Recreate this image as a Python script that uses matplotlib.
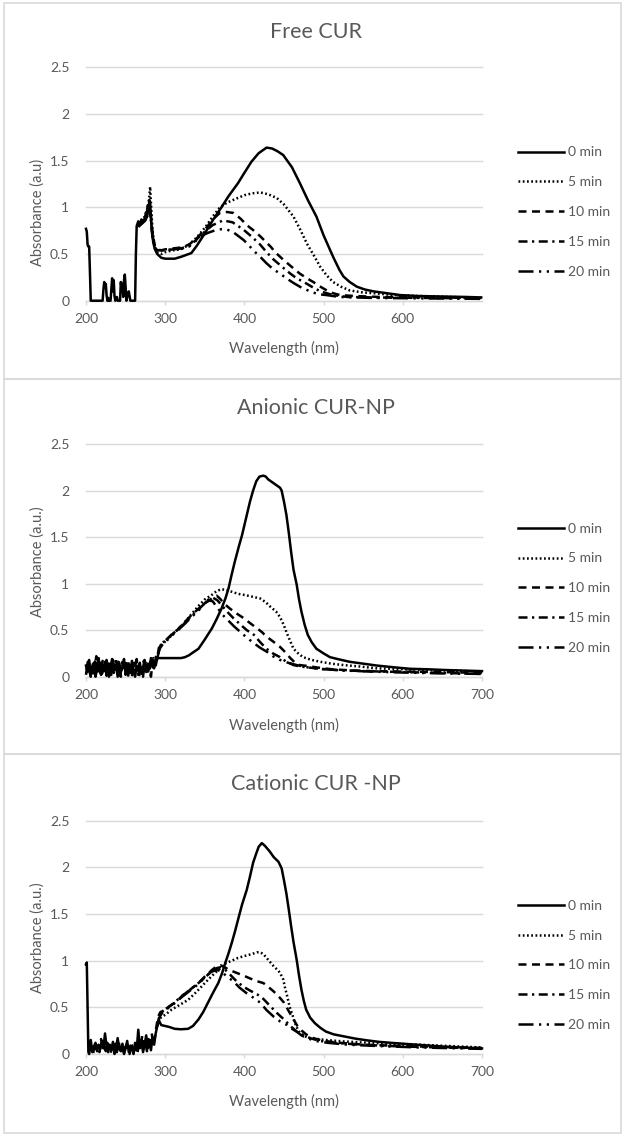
import numpy as np
import matplotlib
matplotlib.use('Agg')
import matplotlib.pyplot as plt
from matplotlib.patches import Rectangle
from matplotlib.ticker import FuncFormatter

# Style constants (Excel-like look)
TEXT_COLOR = '#595959'
GRID_COLOR = '#d9d9d9'
LINE_COLOR = '#000000'
FONT = ['Lato', 'DejaVu Sans']

W, H = 625, 1136

LABELS = ['0 min', '5 min', '10 min', '15 min', '20 min']
STYLES = [
    '-',
    (0, (0.7, 1.0)),
    (0, (3.2, 2.2)),
    (0, (3.6, 1.8, 0.9, 1.8)),
    (0, (6, 2.2, 0.9, 2.2, 0.9, 2.2)),
]
Y_TICKS = [0, 0.5, 1, 1.5, 2, 2.5]

# ---------------- Free CUR ----------------
FREE_0 = [(200, 0.77), (201, 0.74), (202, 0.6), (203, 0.58), (204, 0.58), (205, 0.3), (206, 0.0),
          (221, 0.0), (222, 0.12), (223, 0.2), (224, 0.14), (225, 0.18), (226, 0.06), (227, 0.0),
          (228, 0.03), (229, 0.0), (231, 0.0), (232, 0.12), (233, 0.24), (234, 0.1), (235, 0.22),
          (236, 0.05), (237, 0.0), (239, 0.04), (240, 0.0), (243, 0.0), (244, 0.2), (245, 0.12),
          (246, 0.18), (247, 0.04), (248, 0.22), (249, 0.28), (250, 0.15), (251, 0.0), (253, 0.08),
          (254, 0.1), (255, 0.05), (256, 0.0), (262, 0.0), (263, 0.5), (264, 0.8), (266, 0.85),
          (268, 0.82), (270, 0.87), (272, 0.84), (274, 0.88), (276, 0.95), (277, 0.9), (278, 1.02),
          (279, 0.97), (280, 1.08), (281, 1.05), (282, 0.9), (283, 0.75), (285, 0.62), (287, 0.55),
          (290, 0.5), (295, 0.46), (300, 0.45), (305, 0.45), (312, 0.45), (320, 0.47), (333, 0.51),
          (340, 0.59), (350, 0.72), (360, 0.86), (371, 1.0), (380, 1.12), (392, 1.26), (400, 1.37),
          (409, 1.49), (418, 1.58), (428, 1.64), (435, 1.63), (442, 1.6), (449, 1.56), (460, 1.43),
          (470, 1.26), (480, 1.08), (491, 0.9), (500, 0.7), (512, 0.47), (520, 0.33), (525, 0.26),
          (533, 0.2), (542, 0.15), (552, 0.12), (563, 0.1), (580, 0.08), (597, 0.06), (620, 0.05),
          (650, 0.045), (680, 0.04), (699, 0.035)]
FREE_5 = [(266, 0.82), (270, 0.85), (274, 0.9), (278, 1.0), (280, 1.12), (281, 1.22), (282, 1.05),
          (284, 0.75), (287, 0.56), (290, 0.52), (295, 0.5), (300, 0.52), (310, 0.54), (320, 0.55),
          (330, 0.6), (340, 0.68), (350, 0.78), (360, 0.9), (369, 1.0), (378, 1.05), (386, 1.08),
          (400, 1.13), (410, 1.15), (420, 1.16), (430, 1.14), (441, 1.1), (450, 1.03), (462, 0.9),
          (470, 0.77), (479, 0.61), (488, 0.48), (496, 0.36), (504, 0.27), (512, 0.2), (522, 0.15),
          (533, 0.11), (548, 0.09), (563, 0.08), (590, 0.06), (620, 0.05), (660, 0.04), (699, 0.03)]
FREE_10 = [(266, 0.8), (270, 0.84), (275, 0.88), (280, 1.0), (282, 0.9), (284, 0.72), (287, 0.58),
           (290, 0.55), (295, 0.54), (300, 0.55), (310, 0.56), (320, 0.57), (330, 0.6), (340, 0.67),
           (350, 0.76), (360, 0.87), (369, 0.94), (378, 0.95), (386, 0.94), (395, 0.88), (403, 0.81),
           (412, 0.75), (420, 0.69), (433, 0.58), (440, 0.51), (449, 0.44), (460, 0.36), (470, 0.29),
           (479, 0.24), (487, 0.2), (496, 0.15), (504, 0.11), (512, 0.08), (521, 0.06), (540, 0.05),
           (570, 0.04), (620, 0.035), (699, 0.03)]
FREE_15 = [(266, 0.8), (270, 0.83), (275, 0.87), (280, 0.98), (282, 0.88), (284, 0.7), (287, 0.57),
           (290, 0.54), (300, 0.54), (310, 0.55), (320, 0.56), (330, 0.58), (340, 0.66), (350, 0.74),
           (360, 0.81), (373, 0.86), (385, 0.84), (399, 0.76), (410, 0.68), (420, 0.6), (428, 0.52),
           (437, 0.44), (448, 0.36), (458, 0.29), (466, 0.24), (475, 0.2), (485, 0.15), (496, 0.1),
           (504, 0.08), (512, 0.06), (530, 0.04), (560, 0.035), (620, 0.03), (699, 0.025)]
FREE_20 = [(266, 0.79), (270, 0.82), (275, 0.86), (280, 0.96), (282, 0.86), (284, 0.69), (287, 0.57),
           (290, 0.54), (300, 0.54), (310, 0.55), (320, 0.56), (330, 0.58), (340, 0.65), (344, 0.69),
           (355, 0.73), (365, 0.76), (375, 0.77), (385, 0.74), (399, 0.65), (405, 0.6), (411, 0.54),
           (420, 0.47), (428, 0.4), (436, 0.34), (445, 0.29), (453, 0.24), (462, 0.19), (472, 0.14),
           (483, 0.1), (493, 0.07), (504, 0.06), (520, 0.04), (560, 0.03), (620, 0.025), (699, 0.02)]

# ---------------- Anionic CUR-NP ----------------
# noisy region below ~290 nm, sampled every 2 nm
ANI_NOISE_A = [0.12, 0.05, 0.18, 0.02, 0.1, 0.15, 0.0, 0.08, 0.2, 0.04, 0.12, 0.06, 0.16, 0.01, 0.09,
               0.14, 0.03, 0.18, 0.07, 0.11, 0.0, 0.15, 0.05, 0.1, 0.19, 0.02, 0.08, 0.13, 0.04, 0.17,
               0.06, 0.0, 0.12, 0.09, 0.15, 0.03, 0.1, 0.18, 0.05, 0.14, 0.08, 0.2, 0.1, 0.16, 0.12, 0.2]
ANI_NOISE_B = [0.08, 0.2, 0.03, 0.14, 0.0, 0.1, 0.22, 0.06, 0.12, 0.02, 0.17, 0.09, 0.05, 0.15, 0.0,
               0.11, 0.19, 0.04, 0.13, 0.07, 0.16, 0.01, 0.1, 0.14, 0.05, 0.18, 0.0, 0.09, 0.12, 0.03,
               0.15, 0.07, 0.11, 0.0, 0.13, 0.06, 0.17, 0.08, 0.12, 0.04, 0.16, 0.1, 0.2, 0.14, 0.22]
ANI_NOISE_C = [0.02, 0.16, 0.09, 0.0, 0.13, 0.07, 0.19, 0.03, 0.1, 0.15, 0.0, 0.12, 0.08, 0.18, 0.04,
               0.1, 0.0, 0.14, 0.09, 0.2, 0.05, 0.11, 0.0, 0.16, 0.07, 0.12, 0.03, 0.17, 0.1, 0.0,
               0.14, 0.06, 0.19, 0.02, 0.11, 0.08, 0.0, 0.13, 0.17, 0.06, 0.12, 0.0, 0.15, 0.09, 0.21, 0.2]
ANI_0 = [(292, 0.2), (295, 0.2), (300, 0.2), (310, 0.2), (320, 0.2), (325, 0.21), (330, 0.23),
         (335, 0.26), (342, 0.3), (350, 0.4), (359, 0.52), (365, 0.62), (371, 0.73), (376, 0.84),
         (380, 0.95), (384, 1.1), (388, 1.24), (393, 1.4), (397, 1.52), (402, 1.7), (407, 1.88),
         (411, 2.0), (415, 2.1), (419, 2.15), (424, 2.16), (427, 2.15), (430, 2.12), (435, 2.09),
         (440, 2.06), (445, 2.03), (447, 2.0), (450, 1.88), (453, 1.74), (456, 1.55), (459, 1.34),
         (462, 1.15), (466, 0.99), (469, 0.83), (472, 0.7), (476, 0.56), (480, 0.45), (485, 0.37),
         (491, 0.3), (500, 0.25), (508, 0.21), (520, 0.185), (533, 0.16), (550, 0.14), (567, 0.12),
         (590, 0.1), (609, 0.085), (630, 0.08), (660, 0.07), (700, 0.06)]
ANI_5 = [(290, 0.2), (293, 0.32), (296, 0.36), (300, 0.39), (305, 0.42), (310, 0.46), (315, 0.5),
         (321, 0.55), (330, 0.64), (342, 0.76), (350, 0.83), (359, 0.88), (365, 0.92), (371, 0.94),
         (378, 0.93), (385, 0.91), (392, 0.89), (399, 0.88), (410, 0.86), (420, 0.84), (427, 0.8),
         (433, 0.75), (440, 0.7), (445, 0.64), (450, 0.55), (453, 0.48), (458, 0.38), (462, 0.3),
         (468, 0.25), (474, 0.21), (485, 0.18), (496, 0.16), (510, 0.14), (525, 0.125), (545, 0.11),
         (567, 0.09), (600, 0.08), (640, 0.07), (700, 0.055)]
ANI_10 = [(291, 0.25), (294, 0.33), (297, 0.36), (300, 0.38), (304, 0.42), (308, 0.45), (315, 0.5),
          (325, 0.59), (333, 0.66), (342, 0.73), (348, 0.78), (354, 0.81), (360, 0.85), (365, 0.87),
          (369, 0.84), (375, 0.78), (382, 0.73), (390, 0.68), (399, 0.63), (408, 0.57), (416, 0.52),
          (422, 0.48), (428, 0.43), (436, 0.38), (445, 0.32), (452, 0.26), (458, 0.2), (464, 0.15),
          (470, 0.125), (480, 0.115), (491, 0.1), (510, 0.08), (530, 0.07), (560, 0.06), (600, 0.055),
          (650, 0.05), (700, 0.04)]
ANI_15 = [(292, 0.31), (297, 0.35), (300, 0.38), (308, 0.45), (315, 0.5), (325, 0.58),
          (333, 0.65), (342, 0.72), (350, 0.79), (356, 0.84), (360, 0.85), (366, 0.82), (372, 0.76),
          (378, 0.7), (386, 0.63), (395, 0.56), (403, 0.5), (412, 0.45), (420, 0.37), (428, 0.3),
          (436, 0.25), (445, 0.21), (453, 0.16), (462, 0.125), (470, 0.11), (480, 0.1), (495, 0.085),
          (520, 0.07), (550, 0.06), (600, 0.05), (650, 0.04), (700, 0.03)]
ANI_20 = [(290, 0.2), (293, 0.3), (297, 0.35), (300, 0.37), (308, 0.44), (315, 0.49), (325, 0.57),
          (333, 0.64), (342, 0.71), (350, 0.79), (355, 0.82), (360, 0.81), (366, 0.74), (373, 0.66),
          (380, 0.6), (387, 0.54), (395, 0.48), (403, 0.42), (412, 0.36), (420, 0.31), (428, 0.27),
          (436, 0.22), (445, 0.18), (455, 0.15), (466, 0.125), (480, 0.1), (500, 0.08), (530, 0.065),
          (560, 0.055), (600, 0.045), (650, 0.035), (700, 0.03)]

# ---------------- Cationic CUR -NP ----------------
CAT_SPIKE = [(200, 0.96), (201, 0.98), (202, 0.5), (203, 0.02)]
CAT_NOISE_A = [0.0, 0.15, 0.02, 0.08, 0.12, 0.03, 0.1, 0.05, 0.14, 0.06, 0.22, 0.08, 0.02, 0.1, 0.04,
               0.13, 0.0, 0.07, 0.17, 0.05, 0.03, 0.11, 0.0, 0.06, 0.14, 0.02, 0.09, 0.05, 0.0, 0.12,
               0.04, 0.26, 0.08, 0.15, 0.02, 0.1, 0.2, 0.06, 0.13, 0.04, 0.18, 0.1, 0.22]
CAT_NOISE_B = [0.03, 0.08, 0.0, 0.12, 0.05, 0.09, 0.02, 0.16, 0.07, 0.1, 0.03, 0.12, 0.06, 0.0, 0.09,
               0.04, 0.11, 0.02, 0.14, 0.06, 0.0, 0.08, 0.03, 0.1, 0.05, 0.0, 0.12, 0.07, 0.02, 0.1,
               0.0, 0.15, 0.05, 0.2, 0.07, 0.12, 0.03, 0.16, 0.08, 0.22, 0.1, 0.18, 0.3]
CAT_0 = [(290, 0.3), (292, 0.36), (295, 0.31), (300, 0.3), (305, 0.29), (312, 0.27), (320, 0.265),
         (329, 0.27), (335, 0.3), (342, 0.37), (348, 0.45), (354, 0.55), (360, 0.65), (367, 0.76),
         (372, 0.87), (376, 0.98), (380, 1.08), (384, 1.19), (388, 1.31), (392, 1.44), (397, 1.6),
         (403, 1.76), (407, 1.9), (411, 2.05), (415, 2.15), (418, 2.22), (422, 2.26), (426, 2.23),
         (432, 2.17), (437, 2.11), (443, 2.06), (447, 1.99), (450, 1.86), (453, 1.72), (456, 1.55),
         (459, 1.37), (462, 1.2), (466, 1.01), (469, 0.84), (472, 0.69), (475, 0.57), (478, 0.475),
         (483, 0.39), (489, 0.33), (496, 0.28), (503, 0.24), (513, 0.21), (525, 0.19), (540, 0.165),
         (555, 0.146), (570, 0.13), (588, 0.118), (617, 0.1), (650, 0.08), (700, 0.06)]
CAT_5 = [(290, 0.3), (293, 0.38), (296, 0.4), (300, 0.42), (308, 0.475), (315, 0.51), (321, 0.54),
         (329, 0.58), (340, 0.67), (350, 0.76), (357, 0.82), (363, 0.87), (370, 0.92), (376, 0.97),
         (384, 1.0), (392, 1.03), (400, 1.05), (409, 1.07), (416, 1.09), (420, 1.09), (424, 1.07),
         (428, 1.03), (433, 0.98), (437, 0.94), (442, 0.9), (445, 0.87), (449, 0.8), (451, 0.72),
         (454, 0.62), (457, 0.51), (461, 0.41), (464, 0.33), (467, 0.27), (470, 0.225), (476, 0.19),
         (483, 0.17), (493, 0.16), (503, 0.15), (525, 0.135), (546, 0.125), (580, 0.11), (620, 0.1),
         (660, 0.085), (700, 0.07)]
CAT_10 = [(291, 0.4), (294, 0.45), (297, 0.46), (300, 0.48), (307, 0.52), (314, 0.56), (321, 0.62),
          (330, 0.68), (342, 0.76), (350, 0.83), (359, 0.9), (365, 0.94), (370, 0.95), (373, 0.94),
          (381, 0.9), (390, 0.87), (399, 0.84), (407, 0.81), (416, 0.78), (424, 0.76), (430, 0.72),
          (437, 0.67), (444, 0.61), (450, 0.55), (456, 0.46), (462, 0.37), (467, 0.3), (471, 0.26),
          (478, 0.21), (487, 0.17), (500, 0.14), (520, 0.12), (550, 0.1), (600, 0.085), (650, 0.075),
          (700, 0.065)]
CAT_15 = [(290, 0.3), (293, 0.42), (297, 0.46), (300, 0.48), (307, 0.52), (314, 0.57), (321, 0.62),
          (330, 0.68), (342, 0.76), (350, 0.82), (359, 0.89), (365, 0.92), (370, 0.93), (376, 0.9),
          (382, 0.85), (390, 0.78), (399, 0.72), (407, 0.68), (416, 0.64), (424, 0.59), (433, 0.51),
          (441, 0.44), (450, 0.37), (458, 0.3), (466, 0.24), (474, 0.2), (483, 0.17), (495, 0.14),
          (515, 0.12), (545, 0.1), (600, 0.08), (650, 0.07), (700, 0.06)]
CAT_20 = [(290, 0.3), (293, 0.4), (297, 0.45), (300, 0.47), (307, 0.51), (314, 0.56), (321, 0.61),
          (330, 0.67), (342, 0.75), (350, 0.82), (358, 0.88), (365, 0.9), (370, 0.89), (378, 0.83),
          (386, 0.78), (394, 0.71), (403, 0.65), (412, 0.6), (420, 0.55), (428, 0.47), (437, 0.4),
          (445, 0.35), (454, 0.31), (460, 0.27), (466, 0.24), (472, 0.2), (479, 0.17), (490, 0.14),
          (505, 0.12), (530, 0.1), (570, 0.085), (620, 0.07), (700, 0.055)]


def noise_points(start, values):
    # values sampled every 2 nm from start
    wl = np.arange(start, start + 2 * len(values), 2)
    return list(zip(wl, values))


def px_x(x):
    return x / W


def px_y(y):
    return 1 - y / H


def draw_panel(fig, top, bottom, title, title_y, xlabel_y, ylabel, ylabel_y, series, xticks):
    ax = fig.add_axes([px_x(86), px_y(bottom), px_x(482) - px_x(86), px_y(top) - px_y(bottom)])
    handles = []
    for pts, style, label in zip(series, STYLES, LABELS):
        arr = np.array(pts, dtype=float)
        ln, = ax.plot(arr[:, 0], arr[:, 1], color=LINE_COLOR, linestyle=style, linewidth=1.8,
                      label=label, clip_on=False, zorder=3)
        handles.append(ln)

    ax.set_xlim(200, 700)
    ax.set_ylim(0, 2.5)
    ax.set_xticks(xticks)
    ax.set_yticks(Y_TICKS)
    ax.yaxis.set_major_formatter(FuncFormatter(lambda v, p: f"{v:g}"))

    for s in ['top', 'right', 'left']:
        ax.spines[s].set_visible(False)
    ax.spines['bottom'].set_color(GRID_COLOR)
    ax.spines['bottom'].set_linewidth(1.0)

    ax.grid(True, axis='y', color=GRID_COLOR, linewidth=1.0, zorder=0)
    for gl in ax.get_ygridlines():
        gl.set_clip_on(False)
    ax.set_axisbelow(True)

    ax.tick_params(axis='x', colors=GRID_COLOR, length=3, width=1.0, direction='out', pad=6,
                   labelcolor=TEXT_COLOR, labelsize=10)
    ax.tick_params(axis='y', length=0, pad=12, labelcolor=TEXT_COLOR, labelsize=10)
    for lab in ax.get_xticklabels() + ax.get_yticklabels():
        lab.set_family(FONT)

    fig.text(px_x(316), px_y(title_y), title, ha='center', va='center', fontsize=15.5,
             color=TEXT_COLOR, family=FONT)
    fig.text(px_x(284), px_y(xlabel_y), 'Wavelength (nm)', ha='center', va='center', fontsize=10.5,
             color=TEXT_COLOR, family=FONT)
    fig.text(px_x(38), px_y(ylabel_y), ylabel, ha='center', va='center', rotation=90,
             fontsize=10.5, color=TEXT_COLOR, family=FONT)

    mid = (top + bottom) / 2 + (bottom - top) * 0.12
    leg = ax.legend(handles=handles, loc='center left', frameon=False,
                    bbox_to_anchor=(px_x(518), px_y(mid)), bbox_transform=fig.transFigure,
                    borderpad=0, borderaxespad=0, handlelength=3.3, handletextpad=0.3,
                    labelspacing=1.28, prop={'family': FONT, 'size': 10})
    for t in leg.get_texts():
        t.set_color(TEXT_COLOR)
    return ax


def main():
    fig = plt.figure(figsize=(W / 100, H / 100), dpi=100, facecolor='white')

    # panel frames
    for y0, y1 in [(3, 378.5), (378.5, 753.5), (753.5, 1133)]:
        fig.patches.append(Rectangle((px_x(3.5), px_y(y1)), px_x(621.5) - px_x(3.5),
                                     px_y(y0) - px_y(y1), transform=fig.transFigure,
                                     fill=False, edgecolor=GRID_COLOR, linewidth=1.2))

    free = [FREE_0, FREE_5, FREE_10, FREE_15, FREE_20]
    draw_panel(fig, 67.3, 300.7, 'Free CUR', 32, 348, 'Absorbance (a.u)', 212, free,
               [200, 300, 400, 500, 600])

    ani = [noise_points(200, ANI_NOISE_A) + ANI_0, ANI_5,
           noise_points(201, ANI_NOISE_B) + ANI_10,
           noise_points(200, ANI_NOISE_C) + ANI_15, ANI_20]
    draw_panel(fig, 444, 676.7, 'Anionic CUR-NP', 408, 725, 'Absorbance (a.u.)', 562, ani,
               [200, 300, 400, 500, 600, 700])

    cat = [CAT_SPIKE + noise_points(204, CAT_NOISE_A) + CAT_0, CAT_5,
           noise_points(205, CAT_NOISE_B) + CAT_10, CAT_15, CAT_20]
    draw_panel(fig, 820.7, 1054, 'Cationic CUR -NP', 784, 1101, 'Absorbance (a.u.)', 938, cat,
               [200, 300, 400, 500, 600, 700])

    fig.savefig('out.png', dpi=100, facecolor='white')


if __name__ == '__main__':
    main()
